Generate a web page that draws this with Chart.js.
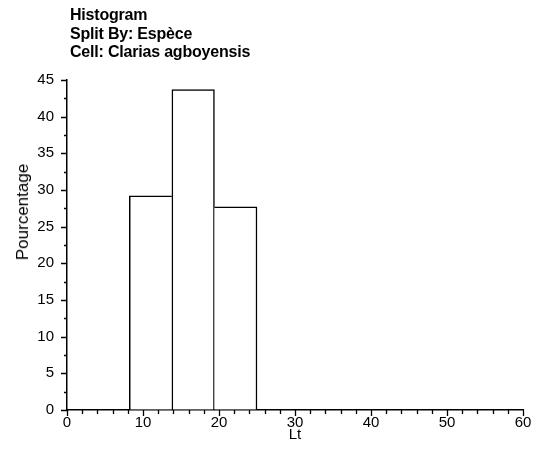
<!DOCTYPE html>
<html>
<head>
<meta charset="utf-8">
<script src="https://cdn.jsdelivr.net/npm/chart.js@4.4.0/dist/chart.umd.min.js"></script>
<style>
  html, body { margin: 0; padding: 0; background: #fff; }
  #wrap { position: relative; width: 538px; height: 469px; }
  #titles {
    position: absolute; left: 70px; top: 6px;
    font-family: "Liberation Sans", Arial, sans-serif;
    font-weight: bold; font-size: 16px; line-height: 18.5px; color: #000;
    letter-spacing: -0.2px;
  }
  #ylabel {
    position: absolute; left: 23px; top: 212px;
    transform: translate(-50%, -50%) rotate(-90deg);
    font-family: "Liberation Sans", Arial, sans-serif;
    font-size: 17px; color: #000; white-space: nowrap;
  }
</style>
</head>
<body>
<div id="wrap">
  <div id="titles">
    <div>Histogram</div>
    <div>Split By: Espèce</div>
    <div>Cell: Clarias agboyensis</div>
  </div>
  <div id="ylabel">Pourcentage</div>
  <canvas id="chart" width="538" height="469"></canvas>
</div>
<script>
// bins of the histogram (Lt), left edges and width
const binStarts = [8.2, 13.8, 19.4];
const binWidth = 5.6;
const percentages = [29.2, 43.7, 27.7];

const xTicks = [0, 10, 20, 30, 40, 50, 60];
const yTicks = [0, 5, 10, 15, 20, 25, 30, 35, 40, 45];
const xMinorStep = 2;
const yMinorStep = 2.5;

const font = { family: "'Liberation Sans', Arial, sans-serif", size: 15 };

// petits traits de graduation (majeurs + mineurs)
const tickMarks = {
    id: "tickMarks",
    afterDraw(chart) {
        const ctx = chart.ctx;
        const xs = chart.scales.x;
        const ys = chart.scales.y;
        ctx.save();
        ctx.strokeStyle = "#000";
        ctx.lineWidth = 1.3;
        ctx.beginPath();
        const xMax = xTicks[xTicks.length - 1];
        for (let v = 0; v <= xMax + 0.001; v += xMinorStep) {
            const px = Math.round(xs.getPixelForValue(v)) + 0.5;
            const len = v % 10 === 0 ? 6 : 4;
            ctx.moveTo(px, xs.top);
            ctx.lineTo(px, xs.top + len);
        }
        const yMax = yTicks[yTicks.length - 1];
        for (let v = 0; v <= yMax + 0.001; v += yMinorStep) {
            const py = Math.round(ys.getPixelForValue(v)) + 0.5;
            const len = v % 5 === 0 ? 6 : 3;
            ctx.moveTo(ys.right, py);
            ctx.lineTo(ys.right - len, py);
        }
        ctx.stroke();
        ctx.restore();
    }
};

const points = binStarts.map((s, i) => ({ x: s + binWidth / 2, y: percentages[i] }));

// une seule ligne entre deux barres voisines : c'est la plus haute qui la trace
function edges(c) {
    const i = c.dataIndex;
    const prev = i > 0 ? percentages[i - 1] : -1;
    const next = i < percentages.length - 1 ? percentages[i + 1] : -1;
    const h = percentages[i];
    return { top: 1.5, bottom: 0, left: h >= prev ? 1.5 : 0, right: h > next ? 1.5 : 0 };
}

new Chart(document.getElementById("chart"), {
    type: "bar",
    data: {
        datasets: [{
            data: points,
            backgroundColor: "#fff",
            borderColor: "#000",
            borderWidth: edges,
            borderSkipped: false,
            barPercentage: 1,
            categoryPercentage: 1,
        }],
    },
    options: {
        responsive: false,
        animation: false,
        events: [],
        layout: { padding: { top: 80, right: 15, left: 0, bottom: 0 } },
        plugins: { legend: { display: false }, tooltip: { enabled: false } },
        scales: {
            x: {
                type: "linear",
                offset: false,
                min: 0,
                max: 60,
                afterFit: (scale) => { scale.height = 59; },
                afterBuildTicks: (scale) => { scale.ticks = xTicks.map((v) => ({ value: v })); },
                ticks: { color: "#000", font: font, padding: 0, maxRotation: 0 },
                grid: { drawOnChartArea: false, color: "transparent", tickLength: 4 },
                border: { display: true, color: "#000", width: 1.5 },
                title: { display: true, text: "Lt", color: "#000", font: font, padding: { top: 0, bottom: 25 } },
            },
            y: {
                min: 0,
                max: 45,
                afterFit: (scale) => { scale.width = 67; },
                afterBuildTicks: (scale) => { scale.ticks = yTicks.map((v) => ({ value: v })); },
                ticks: { color: "#000", font: font, padding: 6 },
                grid: { drawOnChartArea: false, color: "transparent", tickLength: 7 },
                border: { display: true, color: "#000", width: 1.5 },
            },
        },
    },
    plugins: [tickMarks],
});
</script>
</body>
</html>
